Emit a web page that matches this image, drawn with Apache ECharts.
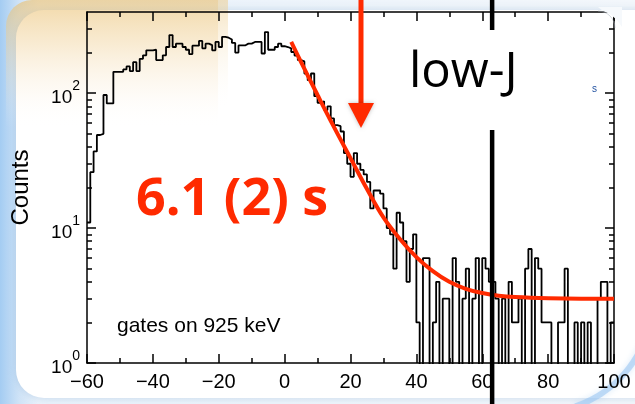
<!DOCTYPE html>
<html><head><meta charset="utf-8">
<script src="https://cdn.jsdelivr.net/npm/echarts/dist/echarts.min.js"></script>
<style>html,body{margin:0;padding:0;background:#fff;overflow:hidden}#c{width:635px;height:404px}</style>
</head><body><div id="c"></div>
<script>
// ---- data ----
const binFirst = -60;          // lower edge of first bin (s)
const binWidth = 1;            // bin width (s)
const counts = [
  11,26,37,49,50,97,84,84,144,144,
  144,150,158,146,170,146,180,191,208,208,
  210,176,176,191,220,270,220,233,233,220,
  210,195,225,225,244,215,233,227,208,240,
  220,262,258,250,236,200,226,226,233,233,
  240,240,240,197,284,210,210,220,233,223,
  220,215,202,190,176,172,140,125,140,95,
  85,87,75,80,65,58,57,52,36,30,
  24,36,30,27,25,22,14,19,19,18,
  14,10,9,5,13,11,8,4,7,9,
  2,0,6,6,0,2,4,0,3,3,
  0,6,4,0,3,5,0,3,6,0,
  6,5,4,4,3,0,3,0,4,2,
  2,3,0,5,7,0,6,5,2,2,
  2,0,0,2,2,5,0,0,2,0,
  2,0,2,0,0,3,4,4,0,2
];
const fitTime   = [2,5,10,15,20,25,30,35,40,45,50,55,60,65,70,80,90,100];
const fitCounts = [240,170,97,56,33,19.5,12,8.3,6.1,4.8,4.0,3.55,3.3,3.15,3.08,3.02,3.0,3.0];
const xMin = -60, xMax = 100, xStep = 20;
const yMin = 1, yMax = 400;
const yMajorTicks = [1,10,100];
const yMinorTicks = [2,3,4,5,6,7,8,9,20,30,40,50,60,70,80,90,200,300];
const gateTime = 63;
const halfLifeText = '6.1 (2) s';
const boxText = 'low-J';
const gateText = 'gates on 925 keV';
const yName = 'Counts';

// ---- build ----
const EMPTY = 0.5; // empty bins are drawn below the log axis floor (clipped)
const histData = counts.map((c, i) => [binFirst + i * binWidth, c > 0 ? c : EMPTY]);
histData.push([binFirst + counts.length * binWidth, counts[counts.length - 1] > 0 ? counts[counts.length - 1] : EMPTY]);
const fitData = fitTime.map((t, i) => [t, fitCounts[i]]);

const FONT = '"Liberation Sans", Arial, Helvetica, sans-serif';
const BLACK = '#000';
const RED = '#ff2a00';

function xAx(pos, labels) {
  return {
    type: 'value', min: xMin, max: xMax, interval: xStep, position: pos,
    axisLine: {show: true, onZero: false, lineStyle: {color: BLACK, width: 1.5}},
    axisTick: {show: true, inside: true, length: 9, lineStyle: {color: BLACK, width: 1.5}},
    minorTick: {show: true, splitNumber: 2, length: 5, lineStyle: {color: BLACK, width: 1.5}},
    axisLabel: labels ? {show: true, margin: 9, fontFamily: FONT, fontSize: 20, color: BLACK,
      formatter: v => String(v).replace('-', '\u2212')} : {show: false},
    splitLine: {show: false}
  };
}
function yAx(pos, major, labels, line) {
  return {
    type: 'log', logBase: 10, min: yMin, max: yMax, position: pos, offset: 0,
    name: labels ? yName : '', nameLocation: 'middle', nameGap: 54, nameRotate: 90,
    nameTextStyle: {fontFamily: FONT, fontSize: 24, color: BLACK},
    axisLine: {show: line, onZero: false, lineStyle: {color: BLACK, width: 1.5}},
    axisTick: {show: true, inside: true, length: major ? 9 : 5,
      customValues: major ? yMajorTicks : yMinorTicks,
      lineStyle: {color: BLACK, width: 1.5}},
    minorTick: {show: false},
    axisLabel: labels ? {
      show: true, margin: 7, customValues: yMajorTicks,
      formatter: v => '{b|10}{s|' + Math.round(Math.log10(v)) + '}',
      rich: {
        b: {fontFamily: FONT, fontSize: 19, color: BLACK, verticalAlign: 'bottom', lineHeight: 28},
        s: {fontFamily: FONT, fontSize: 14, color: BLACK, verticalAlign: 'top', lineHeight: 28}
      }
    } : {show: false},
    splitLine: {show: false}
  };
}

const chart = echarts.init(document.getElementById('c'), null, {renderer: 'canvas', width: 635, height: 404});
chart.setOption({
  animation: false,
  backgroundColor: 'transparent',
  grid: {left: 87, top: 12, width: 527, height: 351, containLabel: false},
  xAxis: [xAx('bottom', true), xAx('top', false)],
  yAxis: [yAx('left', true, true, true), yAx('left', false, false, false),
          yAx('right', true, false, true), yAx('right', false, false, false)],
  series: [
    {type: 'line', name: 'hist', data: histData, step: 'end', showSymbol: false, symbol: 'none',
     xAxisIndex: 0, yAxisIndex: 0, clip: true, z: 3,
     lineStyle: {color: BLACK, width: 1.8}},
    {type: 'line', name: 'fit', data: fitData, smooth: 0.4, showSymbol: false, symbol: 'none',
     xAxisIndex: 0, yAxisIndex: 0, clip: true, z: 4,
     lineStyle: {color: RED, width: 4}}
  ]
});

const gx = chart.convertToPixel({xAxisIndex: 0}, gateTime);
chart.setOption({
  graphic: [
    // slide background
    {type: 'rect', z: -20, silent: true, shape: {x: 0, y: 0, width: 635, height: 404},
     style: {fill: new echarts.graphic.LinearGradient(0, 0, 1, 0, [
       {offset: 0, color: '#a4ccf2'}, {offset: 0.03, color: '#cfe3f7'}, {offset: 0.06, color: '#e9f2fb'}, {offset: 1, color: '#f3f7fb'}])}},
    {type: 'rect', z: -19, silent: true, shape: {x: 16, y: 10, width: 660, height: 388, r: 28},
     style: {fill: '#ffffff', shadowBlur: 8, shadowColor: 'rgba(120,160,200,0.35)'}},
    {type: 'rect', z: -18, silent: true, shape: {x: 6, y: 0, width: 212, height: 128, r: [26, 0, 0, 0]},
     style: {fill: new echarts.graphic.LinearGradient(0, 0, 0, 1, [
       {offset: 0, color: 'rgba(234,192,112,0.62)'}, {offset: 0.35, color: 'rgba(240,208,150,0.42)'},
       {offset: 0.7, color: 'rgba(248,230,200,0.2)'}, {offset: 1, color: 'rgba(255,255,255,0)'}])}},
    {type: 'rect', z: -18, silent: true, shape: {x: 218, y: 0, width: 10, height: 110},
     style: {fill: new echarts.graphic.LinearGradient(0, 0, 1, 1, [
       {offset: 0, color: 'rgba(236,200,130,0.5)'}, {offset: 1, color: 'rgba(255,255,255,0)'}])}},
    {type: 'arc', z: -17, silent: true, shape: {cx: 540, cy: 300, r: 112, startAngle: 0.05, endAngle: 1.25},
     style: {stroke: 'rgba(150,195,240,0.55)', lineWidth: 6, fill: null, shadowBlur: 6, shadowColor: 'rgba(150,195,240,0.6)'}},
    // clipped top-right corner of the figure
    {type: 'polygon', z: 40, silent: true, shape: {points: [[598, 7], [622, 7], [622, 27], [617, 20], [610, 14], [603, 11]]},
     style: {fill: '#f6f9fc'}},
    {type: 'arc', z: 41, silent: true, shape: {cx: 598, cy: 28, r: 17, startAngle: -Math.PI / 2, endAngle: 0},
     style: {stroke: 'rgba(170,180,190,0.5)', lineWidth: 1, fill: null}},
    // gate line
    {type: 'line', z: 50, silent: true, shape: {x1: gx, y1: 0, x2: gx, y2: 404},
     style: {stroke: BLACK, lineWidth: 4.5}},
    // low-J box
    {type: 'rect', z: 60, silent: true, shape: {x: 395, y: 30, width: 195, height: 100},
     style: {fill: '#ffffff'}},
    {type: 'text', z: 61, silent: true, x: 409, y: 98,
     style: {text: boxText, fontFamily: '"Open Sans", sans-serif', fontSize: 49, fill: BLACK,
             verticalAlign: 'bottom'}},
    {type: 'text', z: 39, silent: true, x: 592, y: 84,
     style: {text: 's', fontFamily: FONT, fontSize: 10, fill: '#2050a0', verticalAlign: 'top'}},
    // arrow
    {type: 'rect', z: 55, silent: true, shape: {x: 358.5, y: 0, width: 5, height: 106},
     style: {fill: RED}},
    {type: 'polygon', z: 55, silent: true, shape: {points: [[348, 103], [374, 103], [361, 128]]},
     style: {fill: RED, shadowBlur: 4, shadowColor: 'rgba(0,0,0,0.25)'}},
    // half-life text
    {type: 'text', z: 55, silent: true, x: 136, y: 174,
     style: {text: halfLifeText, fontFamily: '"Open Sans", sans-serif', fontWeight: 'bold',
             fontSize: 52, fill: RED, verticalAlign: 'top'}},
    // gate text
    {type: 'text', z: 55, silent: true, x: 117, y: 316,
     style: {text: gateText, fontFamily: FONT, fontSize: 21, fill: BLACK, verticalAlign: 'top'}}
  ]
});
</script></body></html>
